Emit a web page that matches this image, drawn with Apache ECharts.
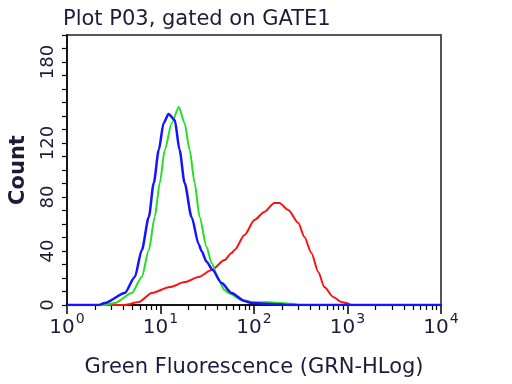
<!DOCTYPE html>
<html>
<head>
<meta charset="utf-8">
<script src="https://cdn.jsdelivr.net/npm/echarts@6/dist/echarts.min.js"></script>
<style>html,body{margin:0;padding:0;background:#fff}#c{width:512px;height:384px}</style>
</head>
<body>
<div id="c"></div>
<script>
var titleText = 'Plot P03, gated on GATE1';
var xName = 'Green Fluorescence (GRN-HLog)';
var yName = 'Count';
var xDecades = [1, 10, 100, 1000, 10000];
var xMinorTicks = [2,3,4,5,6,7,8,9,20,30,40,50,60,70,80,90,200,300,400,500,600,700,800,900,2000,3000,4000,5000,6000,7000,8000,9000];
var yTicks = [0,10,20,30,40,50,60,70,80,90,100,110,120,130,140,150,160,170,180,190,200];
var yLabels = [0, 40, 80, 120, 180];

var redX = [1, 4.15, 5.86, 8.07, 12.6, 18.1, 25.6, 35.2, 48.4, 57.5, 61.9, 79.2, 101, 129, 165, 187, 233, 298, 346, 411, 487, 565, 705, 857, 970, 1100, 10000];
var redY = [0, 0, 2.2, 8.9, 13.3, 17, 20.7, 25.9, 33.3, 38.5, 40.7, 51.9, 63, 68.9, 75.6, 75.6, 70.4, 60.7, 50.4, 38.5, 24.4, 13.3, 5.9, 2.2, 1.5, 0, 0];

var greenX = [1, 2.5, 3.25, 4.94, 6.31, 7.5, 8.68, 9.82, 11.1, 13.2, 15.7, 18.1, 20.5, 23.2, 26.2, 31.1, 35.2, 41.8, 48.4, 53.4, 73.5, 100, 143, 250, 300, 10000];
var greenY = [0, 0, 1.5, 8.9, 20.7, 40.7, 65.2, 90.4, 114.8, 134.8, 146.7, 134.8, 114.8, 90.4, 65.2, 43, 31.1, 18.5, 11.1, 8.9, 3.7, 2, 2, 1, 0, 0];

var blueX = [1, 2.2, 2.54, 4.15, 5.31, 6.31, 7.5, 8.47, 9.58, 10.8, 12.2, 14.2, 16.0, 18.1, 21.5, 25.6, 27.5, 31.1, 36.1, 45.0, 57.5, 79.2, 94, 150, 250, 10000];
var blueY = [0, 0, 1.5, 8.9, 20.7, 40.7, 65.2, 90.4, 114.8, 134.8, 141.5, 137, 114.8, 90.4, 65.2, 45, 40, 32, 26, 16.3, 8.9, 3, 1.5, 0.8, 0, 0];

function zip(xs, ys) { return xs.map(function (x, i) { return [x, ys[i]]; }); }

var textColor = '#1c1c3a';
var chart = echarts.init(document.getElementById('c'));
chart.setOption({
  animation: false,
  title: {
    text: titleText, left: 58, top: 4,
    textStyle: { fontFamily: 'DejaVu Sans', fontSize: 21, fontWeight: 'normal', color: textColor }
  },
  grid: { left: 65, right: 71, top: 35, bottom: 79, show: true, borderColor: '#555', borderWidth: 2, backgroundColor: '#fff' },
  xAxis: [{
    type: 'log', logBase: 10, min: 1, max: 10000,
    name: xName, nameLocation: 'middle', nameGap: 52,
    nameTextStyle: { fontFamily: 'DejaVu Sans', fontSize: 21, color: textColor },
    axisLine: { lineStyle: { color: '#000', width: 1.5 } },
    axisTick: { show: true, length: 9, customValues: xDecades, lineStyle: { color: '#000', width: 1.5 } },
    axisLabel: {
      margin: 7,
      customValues: xDecades,
      formatter: function (v) { return '{b|10}{s|' + Math.round(Math.log10(v)) + '}'; },
      rich: {
        b: { fontFamily: 'DejaVu Sans', fontSize: 20, color: textColor, verticalAlign: 'bottom', lineHeight: 26 },
        s: { fontFamily: 'DejaVu Sans', fontSize: 14, color: textColor, verticalAlign: 'top', lineHeight: 26, padding: [0, 0, 12, 1] }
      }
    },
    splitLine: { show: false }
  }, {
    type: 'log', logBase: 10, min: 1, max: 10000, position: 'bottom', gridIndex: 0,
    axisLine: { show: false },
    axisTick: { show: true, length: 5, customValues: xMinorTicks, lineStyle: { color: '#000', width: 1.2 } },
    axisLabel: { show: false },
    splitLine: { show: false }
  }],
  yAxis: {
    type: 'value', min: 0, max: 200,
    name: yName, nameLocation: 'middle', nameGap: 38,
    nameTextStyle: { fontFamily: 'DejaVu Sans', fontSize: 21, fontWeight: 'bold', color: textColor },
    axisLine: { show: true, lineStyle: { color: '#000', width: 1.5 } },
    axisTick: { show: true, length: 5, customValues: yTicks, lineStyle: { color: '#000', width: 1.2 } },
    axisLabel: {
      customValues: yLabels, rotate: 90, margin: 10,
      fontFamily: 'DejaVu Sans', fontSize: 18, color: textColor
    },
    splitLine: { show: false }
  },
  series: [
    { type: 'line', data: zip(redX, redY), showSymbol: false, smooth: 0.25, smoothMonotone: 'x', lineStyle: { color: '#ff1010', width: 2 }, itemStyle: { color: '#ff1010' } },
    { type: 'line', data: zip(greenX, greenY), showSymbol: false, smooth: 0.25, smoothMonotone: 'x', lineStyle: { color: '#22e022', width: 2 }, itemStyle: { color: '#22e022' } },
    { type: 'line', data: zip(blueX, blueY), showSymbol: false, smooth: 0.25, smoothMonotone: 'x', lineStyle: { color: '#1414ff', width: 2.5 }, itemStyle: { color: '#1414ff' } }
  ]
});
</script>
</body>
</html>
